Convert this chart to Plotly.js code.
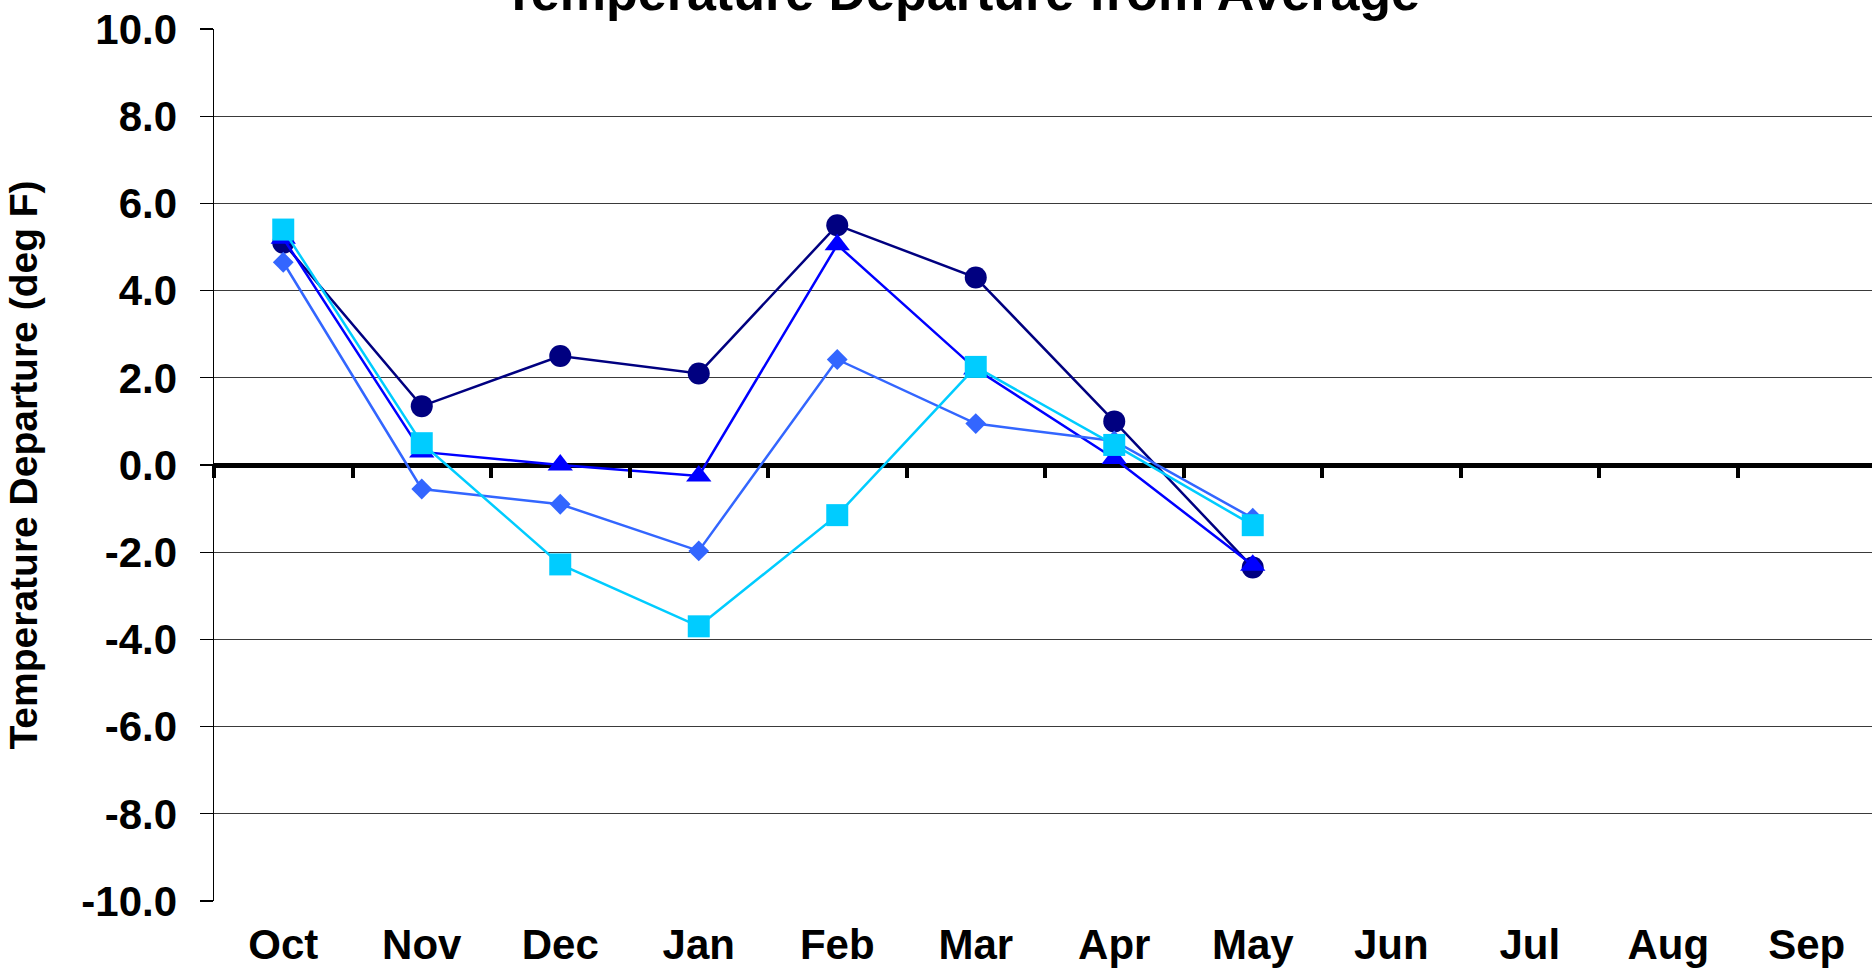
<!DOCTYPE html>
<html>
<head>
<meta charset="utf-8">
<script src="https://cdn.plot.ly/plotly-3.0.1.min.js"></script>
<style>
  html, body { margin: 0; padding: 0; background: #ffffff; overflow: hidden; }
  #chart { width: 1880px; height: 969px; }
</style>
</head>
<body>
<div id="chart"></div>
<script>
// Categories (water-year months)
const months = ["Oct", "Nov", "Dec", "Jan", "Feb", "Mar", "Apr", "May", "Jun", "Jul", "Aug", "Sep"];

// Series values (deg F departure)
const seriesCircle   = [5.1, 1.35, 2.5, 2.1, 5.5, 4.3, 1.0, -2.35];
const seriesTriangle = [5.2, 0.3, 0.0, -0.25, 5.05, 2.2, 0.15, -2.3];
const seriesDiamond  = [4.65, -0.55, -0.9, -1.97, 2.42, 0.95, 0.55, -1.22];
const seriesSquare   = [5.4, 0.5, -2.28, -3.7, -1.15, 2.25, 0.46, -1.38];

// Y tick values and labels
const yTicks = [-10, -8, -6, -4, -2, 0, 2, 4, 6, 8, 10];
const yTickLabels = yTicks.map(v => v.toFixed(1));

const FONT = "'Liberation Sans', Arial, sans-serif";

function mk(values, color, symbol, size) {
  return {
    type: "scatter",
    mode: "lines+markers",
    x: months.slice(0, values.length),
    y: values,
    line: { color: color, width: 2.5 },
    marker: { color: color, symbol: symbol, size: size, line: { width: 0 } },
    showlegend: false,
    hoverinfo: "x+y"
  };
}

const traces = [
  mk(seriesCircle, "#000080", "circle", 22),
  mk(seriesTriangle, "#0000FF", "triangle-up", 22),
  mk(seriesDiamond, "#3366FF", "diamond", 16),
  mk(seriesSquare, "#00CCFF", "square", 22),
  {
    type: "scatter", mode: "markers",
    x: months, y: months.map(() => null),
    xaxis: "x2", showlegend: false, hoverinfo: "skip"
  }
];

const layout = {
  width: 1880,
  height: 969,
  paper_bgcolor: "#ffffff",
  plot_bgcolor: "#ffffff",
  margin: { l: 213.5, r: 4, t: 29, b: 68, pad: 0 },
  font: { family: FONT, color: "#000000" },
  title: {
    text: "<b>Temperature Departure from Average</b>",
    font: { family: FONT, size: 52, color: "#000000" },
    xref: "container", x: 961.5 / 1880, xanchor: "center",
    yref: "container", y: 1 - 10 / 969, yanchor: "bottom"
  },
  xaxis: {
    type: "category",
    categoryorder: "array",
    categoryarray: months,
    range: [-0.5, 11.5],
    showline: false,
    showgrid: false,
    zeroline: false,
    ticks: "",
    tickfont: { family: FONT, size: 42, color: "#000000", weight: "bold" },
    ticklabelstandoff: 15,
    fixedrange: true
  },
  xaxis2: {
    type: "category",
    categoryorder: "array",
    categoryarray: months,
    overlaying: "x",
    anchor: "free",
    position: 0.5,
    range: [-0.5, 11.5],
    tickson: "boundaries",
    ticks: "outside",
    ticklen: 12,
    tickwidth: 4,
    tickcolor: "#000000",
    showticklabels: false,
    showgrid: false,
    showline: false,
    zeroline: false
  },
  yaxis: {
    range: [-10, 10],
    tickmode: "array",
    tickvals: yTicks,
    ticktext: yTickLabels,
    showline: true,
    linecolor: "#000000",
    linewidth: 1.5,
    ticks: "outside",
    ticklen: 13,
    tickwidth: 1.2,
    tickcolor: "#000000",
    showgrid: true,
    gridcolor: "#3a3a3a",
    gridwidth: 1.4,
    zeroline: true,
    zerolinecolor: "#000000",
    zerolinewidth: 5,
    tickfont: { family: FONT, size: 42, color: "#000000", weight: "bold" },
    ticklabelstandoff: 14,
    title: {
      text: "Temperature Departure (deg F)",
      font: { family: FONT, size: 39, color: "#000000", weight: "bold" },
      standoff: 31
    },
    automargin: false,
    fixedrange: true
  }
};

Plotly.newPlot("chart", traces, layout, { displayModeBar: false, staticPlot: true });
</script>
</body>
</html>
